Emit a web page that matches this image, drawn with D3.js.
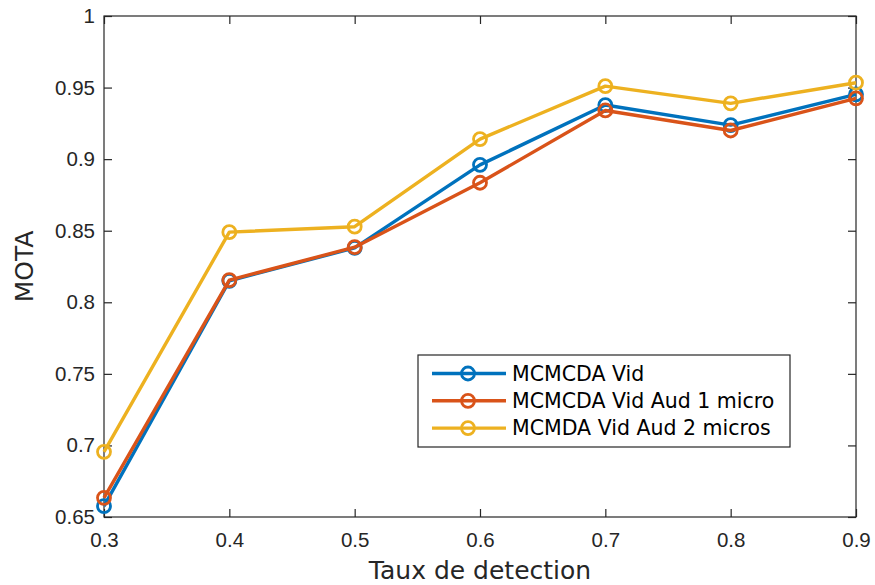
<!DOCTYPE html>
<html>
<head>
<meta charset="utf-8">
<script src="https://cdn.jsdelivr.net/npm/d3@7"></script>
<style>
  body { margin: 0; background: #fff; }
  svg { font-family: "DejaVu Sans", sans-serif; }
</style>
</head>
<body>
<div class="chart"></div>
<script>
// data
var xValues = [0.3, 0.4, 0.5, 0.6, 0.7, 0.8, 0.9];
var seriesNames = ['MCMCDA Vid', 'MCMCDA Vid Aud 1 micro', 'MCMDA Vid Aud 2 micros'];
var vid = [0.6576, 0.815, 0.838, 0.896, 0.9378, 0.9238, 0.9453];
var vidAud1 = [0.6634, 0.8155, 0.8385, 0.8835, 0.934, 0.920, 0.9425];
var vidAud2 = [0.6955, 0.849, 0.8528, 0.914, 0.951, 0.939, 0.9534];
var xTicks = [0.3, 0.4, 0.5, 0.6, 0.7, 0.8, 0.9];
var yTicks = [0.65, 0.7, 0.75, 0.8, 0.85, 0.9, 0.95, 1];
var colors = ['#0072BD', '#D95319', '#EDB120'];

var margin = { top: 16, right: 19, bottom: 68, left: 104 };
var width = 875 - margin.left - margin.right;
var height = 585 - margin.top - margin.bottom;

var svg = d3.select('.chart')
    .append('svg')
    .attr('width', 875)
    .attr('height', 585)
    .append('g')
    .attr('transform', 'translate(' + margin.left + ', ' + margin.top + ')');

var xScale = d3.scaleLinear().domain([0.3, 0.9]).range([0, width]);
var yScale = d3.scaleLinear().domain([0.65, 1]).range([height, 0]);

var axisColor = '#262626';

// box
svg.append('rect')
    .attr('width', width)
    .attr('height', height)
    .attr('fill', 'none')
    .attr('stroke', axisColor)
    .attr('stroke-width', 1.2);

// axes with inward ticks
var fmt = d => String(+d.toFixed(2));
var xAxis = svg.append('g')
    .attr('transform', `translate(0, ${height})`)
    .call(d3.axisBottom(xScale).tickValues(xTicks).tickFormat(fmt).tickSize(-8).tickPadding(15));
var xTop = svg.append('g')
    .call(d3.axisTop(xScale).tickValues(xTicks).tickFormat('').tickSize(-8));
var yAxis = svg.append('g')
    .call(d3.axisLeft(yScale).tickValues(yTicks).tickFormat(fmt).tickSize(-8).tickPadding(9));
var yRight = svg.append('g')
    .attr('transform', `translate(${width}, 0)`)
    .call(d3.axisRight(yScale).tickValues(yTicks).tickFormat('').tickSize(-8));

[xAxis, xTop, yAxis, yRight].forEach(a => {
    a.select('.domain').remove();
    a.selectAll('.tick line').attr('stroke', axisColor).attr('stroke-width', 1.2);
    a.selectAll('.tick text').attr('fill', axisColor).style('font-size', '20.5px');
});

// axis titles
svg.append('text')
    .attr('x', width / 2)
    .attr('y', height + 62)
    .attr('text-anchor', 'middle')
    .attr('fill', axisColor)
    .style('font-size', '25px')
    .text('Taux de detection');

svg.append('text')
    .attr('transform', `translate(${-71}, ${height / 2}) rotate(-90)`)
    .attr('text-anchor', 'middle')
    .attr('fill', axisColor)
    .style('font-size', '25px')
    .text('MOTA');

// series
var allSeries = [vid, vidAud1, vidAud2];
var line = d3.line()
    .x((d, i) => xScale(xValues[i]))
    .y(d => yScale(d));

allSeries.forEach((s, k) => {
    var g = svg.append('g');
    g.append('path')
        .datum(s)
        .attr('d', line)
        .attr('fill', 'none')
        .attr('stroke', colors[k])
        .attr('stroke-width', 3.4)
        .attr('stroke-linejoin', 'round');
    g.selectAll('circle')
        .data(s)
        .enter()
        .append('circle')
        .attr('cx', (d, i) => xScale(xValues[i]))
        .attr('cy', d => yScale(d))
        .attr('r', 6.5)
        .attr('fill', 'none')
        .attr('stroke', colors[k])
        .attr('stroke-width', 2.8);
});

// legend
var legend = svg.append('g')
    .attr('transform', 'translate(314, 339)');
legend.append('rect')
    .attr('width', 372)
    .attr('height', 92)
    .attr('fill', '#fff')
    .attr('stroke', axisColor)
    .attr('stroke-width', 1.2);

var items = legend.selectAll('.item')
    .data(seriesNames)
    .enter()
    .append('g')
    .attr('class', 'item')
    .attr('transform', (d, i) => `translate(0, ${18.5 + i * 27.3})`);
items.append('line')
    .attr('x1', 14).attr('x2', 88)
    .attr('stroke', (d, i) => colors[i])
    .attr('stroke-width', 3.4);
items.append('circle')
    .attr('cx', 50)
    .attr('r', 6.5)
    .attr('fill', 'none')
    .attr('stroke', (d, i) => colors[i])
    .attr('stroke-width', 2.8);
items.append('text')
    .attr('x', 94)
    .attr('dy', '0.36em')
    .attr('fill', '#000')
    .style('font-size', '20.5px')
    .text(d => d);
</script>
</body>
</html>
